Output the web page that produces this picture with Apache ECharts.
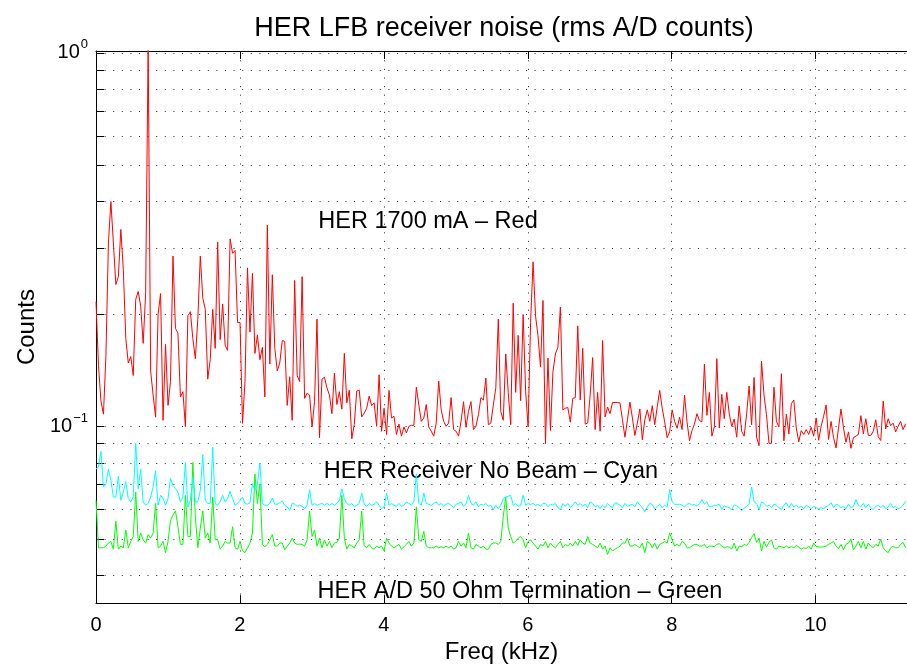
<!DOCTYPE html>
<html><head><meta charset="utf-8">
<script src="https://cdn.jsdelivr.net/npm/echarts@6/dist/echarts.min.js"></script>
<style>html,body{margin:0;padding:0;background:#fff}#c{width:907px;height:669px}</style>
</head><body><div id="c"></div>
<script>
// frequency bins (kHz): 327 bins from 0 to 11.25 kHz
const freqMax = 11.25;
const binCount = 327;

const red = [
0.216,0.146,0.117,0.108,0.155,0.31,0.40,0.31,0.24,0.252,
0.337,0.263,0.172,0.148,0.154,0.137,0.219,0.23,0.21,0.167,
0.228,1.05,0.141,0.1215,0.106,0.2,0.227,0.104,0.166,0.114,
0.132,0.286,0.183,0.178,0.12,0.124,0.1,0.198,0.203,0.172,
0.152,0.194,0.286,0.221,0.206,0.134,0.151,0.206,0.162,0.312,
0.171,0.213,0.165,0.16,0.318,0.291,0.296,0.19,0.19,0.102,
0.132,0.266,0.179,0.257,0.157,0.176,0.151,0.163,0.12,0.346,
0.147,0.255,0.162,0.141,0.148,0.17,0.169,0.114,0.136,0.104,
0.246,0.137,0.132,0.252,0.119,0.1228,0.1215,0.0998,0.1166,0.194,
0.0934,0.134,0.1356,0.127,0.1215,0.1083,0.139,0.1146,0.124,0.1114,
0.157,0.1158,0.1252,0.0928,0.1012,0.1245,0.1252,0.1062,0.1087,0.112,
0.1207,0.1138,0.1158,0.1002,0.1376,0.0972,0.112,0.0953,0.125,0.1055,
0.1066,0.0953,0.1016,0.0943,0.0998,0.0962,0.1002,0.1008,0.1008,0.1275,
0.1143,0.1033,0.1055,0.1146,0.0998,0.0972,0.0943,0.1022,0.1325,0.1109,
0.1033,0.1002,0.1022,0.1196,0.0982,0.0972,0.0943,0.1033,0.1166,0.0996,
0.1098,0.1166,0.0982,0.1002,0.1076,0.1196,0.1178,0.135,0.1012,0.1022,
0.1143,0.127,0.194,0.1098,0.104,0.1565,0.1235,0.1012,0.214,0.1235,
0.1755,0.1173,0.1995,0.1245,0.0998,0.19,0.276,0.1976,0.175,0.1443,
0.2176,0.09,0.1525,0.0976,0.1403,0.1565,0.163,0.209,0.1109,0.112,
0.1125,0.1028,0.119,0.1196,0.186,0.1178,0.162,0.1016,0.1022,0.1215,
0.153,0.0982,0.1235,0.0972,0.17,0.1062,0.1128,0.1083,0.116,0.116,
0.116,0.1158,0.1043,0.0937,0.1043,0.1163,0.1055,0.0947,0.1022,0.1115,
0.0922,0.1043,0.1109,0.1033,0.1138,0.1012,0.113,0.125,0.112,0.103,
0.0934,0.0968,0.1109,0.1033,0.099,0.106,0.0982,0.1215,0.1028,0.0917,
0.0976,0.1016,0.1083,0.1038,0.103,0.147,0.1072,0.1235,0.0943,0.0998,
0.152,0.0992,0.122,0.105,0.1235,0.1083,0.1002,0.1048,0.0937,0.1135,
0.0972,0.0943,0.1083,0.1285,0.1012,0.1354,0.0937,0.0889,0.1497,0.1215,
0.1076,0.0902,0.0902,0.1275,0.1033,0.0998,0.1385,0.0917,0.108,0.0956,
0.1153,0.1178,0.0992,0.0911,0.0976,0.0953,0.0982,0.0953,0.0996,0.0943,
0.1055,0.092,0.1002,0.1066,0.1143,0.0924,0.1033,0.0934,0.0877,0.0992,
0.1114,0.0992,0.0908,0.0968,0.0875,0.0934,0.0943,0.0953,0.107,0.0956,
0.105,0.0948,0.0947,0.0972,0.1043,0.0939,0.0918,0.117,0.0986,0.105,
0.1006,0.1022,0.0968,0.1002,0.1033,0.0982,0.1018
];

const cyan = [
0.077,0.0779,0.0858,0.0689,0.0703,0.077,0.0718,0.0648,0.0648,0.0736,
0.0635,0.0668,0.0713,0.0642,0.0629,0.0648,0.0902,0.0682,0.077,0.0629,
0.0616,0.0623,0.0648,0.0689,0.0762,0.0616,0.0655,0.0642,0.0616,0.0642,
0.0728,0.0696,0.0682,0.0668,0.0629,0.0648,0.0802,0.061,0.0635,0.0732,
0.0629,0.0629,0.0675,0.0841,0.0635,0.0623,0.0623,0.0881,0.0623,0.0616,
0.0629,0.0655,0.0629,0.0642,0.0672,0.0642,0.0616,0.0623,0.0635,0.0648,
0.0623,0.062,0.0626,0.0703,0.0675,0.0703,0.0797,0.0623,0.0616,0.0616,
0.0623,0.0644,0.062,0.062,0.0626,0.0632,0.0616,0.061,0.0597,0.0623,
0.062,0.0612,0.0616,0.0612,0.0603,0.0616,0.0678,0.0616,0.0623,0.0616,
0.062,0.0623,0.0616,0.0623,0.0616,0.0623,0.0616,0.0623,0.0635,0.0682,
0.0642,0.0623,0.0616,0.0623,0.061,0.0616,0.0623,0.0664,0.062,0.0612,
0.0623,0.0616,0.062,0.0629,0.0616,0.0603,0.061,0.0664,0.0616,0.0623,
0.0616,0.0612,0.0623,0.0612,0.0616,0.0629,0.0623,0.0616,0.0629,0.0747,
0.0623,0.0616,0.0664,0.0623,0.062,0.0616,0.0623,0.0629,0.0616,0.0623,
0.0612,0.062,0.0623,0.0616,0.0607,0.062,0.0623,0.0629,0.0612,0.062,
0.0655,0.0623,0.0616,0.0629,0.061,0.062,0.0616,0.0623,0.0612,0.0616,
0.06,0.0616,0.0603,0.0616,0.0642,0.0648,0.0651,0.0655,0.0616,0.0623,
0.0612,0.0616,0.0655,0.0616,0.0623,0.0619,0.0623,0.0616,0.0619,0.0612,
0.0623,0.0623,0.061,0.062,0.0616,0.0623,0.0607,0.06,0.0623,0.0612,
0.0623,0.0607,0.0616,0.0629,0.0616,0.0623,0.0612,0.062,0.0607,0.0629,
0.0623,0.061,0.0616,0.0603,0.0616,0.0607,0.0623,0.0612,0.0607,0.0626,
0.0623,0.0616,0.0607,0.0623,0.0612,0.0616,0.062,0.061,0.0629,0.0616,
0.0607,0.0592,0.061,0.0623,0.0619,0.0603,0.0612,0.062,0.0607,0.0616,
0.061,0.0678,0.0629,0.062,0.0619,0.062,0.0616,0.061,0.062,0.0623,
0.0616,0.062,0.0612,0.0623,0.0638,0.062,0.0629,0.061,0.0612,0.0616,
0.0616,0.062,0.06,0.0614,0.061,0.0607,0.06,0.0617,0.0614,0.0607,
0.0596,0.0605,0.0612,0.062,0.0689,0.0629,0.0623,0.06,0.0629,0.0623,
0.0612,0.0616,0.0607,0.062,0.0616,0.0607,0.06,0.0616,0.0626,0.0607,
0.0623,0.061,0.0616,0.0607,0.0612,0.0603,0.0616,0.061,0.0603,0.0612,
0.0607,0.0603,0.0607,0.0603,0.061,0.0616,0.0626,0.0607,0.062,0.0616,
0.0607,0.0612,0.0603,0.062,0.0607,0.0612,0.0638,0.0616,0.061,0.0623,
0.0607,0.062,0.0607,0.06,0.0612,0.0616,0.0607,0.0616,0.0603,0.061,
0.0623,0.0607,0.0612,0.0603,0.0607,0.0616,0.0632
];

const green = [
0.0635,0.0474,0.0474,0.0474,0.0479,0.0488,0.0493,0.047,0.0558,0.047,
0.0479,0.0474,0.0529,0.0474,0.0493,0.0508,0.0668,0.0493,0.0519,0.0498,
0.0488,0.0514,0.0503,0.0519,0.0623,0.0474,0.0479,0.0493,0.046,0.0493,
0.0561,0.058,0.0595,0.054,0.0484,0.0484,0.0655,0.0508,0.0508,0.0802,
0.0574,0.0474,0.0535,0.0595,0.0503,0.0519,0.0488,0.0648,0.0498,0.0498,
0.047,0.0479,0.0493,0.0488,0.0488,0.054,0.0474,0.047,0.0493,0.0465,
0.046,0.0474,0.0488,0.0519,0.0747,0.0623,0.0703,0.0484,0.0477,0.0484,
0.0498,0.0514,0.0479,0.0479,0.0488,0.0488,0.0468,0.0479,0.0488,0.0503,
0.0488,0.0484,0.0485,0.0484,0.0479,0.0498,0.0595,0.0508,0.0529,0.0479,
0.0503,0.0474,0.0498,0.0479,0.0493,0.0474,0.0488,0.049,0.0503,0.0655,
0.0503,0.047,0.0484,0.0479,0.0474,0.0488,0.0498,0.0594,0.048,0.0474,
0.0484,0.0474,0.047,0.0479,0.0474,0.0479,0.0465,0.0503,0.0488,0.0479,
0.0474,0.0479,0.0484,0.047,0.0477,0.0484,0.0493,0.0479,0.0488,0.061,
0.0498,0.0493,0.0524,0.0479,0.0474,0.0474,0.0474,0.0479,0.0474,0.0477,
0.0474,0.0479,0.0474,0.0479,0.047,0.0474,0.0493,0.0479,0.0488,0.0474,
0.0519,0.0474,0.047,0.0484,0.0479,0.0474,0.0479,0.047,0.047,0.0484,
0.0488,0.0488,0.0484,0.0493,0.0574,0.0648,0.0535,0.0508,0.0488,0.0493,
0.0503,0.0508,0.0498,0.0474,0.0493,0.0498,0.0488,0.0479,0.047,0.0484,
0.0479,0.0493,0.0474,0.0488,0.0479,0.0474,0.0484,0.0493,0.0474,0.0484,
0.0479,0.0488,0.0479,0.0493,0.0481,0.0498,0.0488,0.0484,0.0508,0.0488,
0.0484,0.0479,0.0474,0.0488,0.047,0.0479,0.0455,0.0474,0.0465,0.047,
0.0474,0.0479,0.0488,0.0488,0.0503,0.0479,0.0479,0.0484,0.0479,0.0474,
0.0488,0.046,0.0493,0.0488,0.0474,0.0488,0.047,0.0484,0.0488,0.0493,
0.0488,0.0519,0.0498,0.0479,0.0484,0.0479,0.0493,0.0488,0.0474,0.0474,
0.0479,0.0484,0.0484,0.0479,0.0479,0.0484,0.0474,0.0479,0.0479,0.0477,
0.0484,0.0486,0.0479,0.0474,0.0477,0.0476,0.047,0.0488,0.0465,0.0479,
0.0477,0.0484,0.0481,0.049,0.0505,0.0517,0.049,0.0503,0.0465,0.0493,
0.0476,0.049,0.0498,0.0474,0.047,0.0479,0.0477,0.0474,0.0479,0.0474,
0.0477,0.0474,0.0481,0.0476,0.047,0.0474,0.0472,0.0479,0.047,0.0488,
0.0478,0.0477,0.0476,0.0477,0.0479,0.0484,0.0488,0.0493,0.0479,0.0471,
0.0484,0.0468,0.0484,0.0488,0.05,0.0468,0.0479,0.0493,0.0474,0.0493,
0.047,0.0488,0.0479,0.0474,0.0484,0.0479,0.05,0.0474,0.0465,0.046,
0.0474,0.0479,0.0474,0.0474,0.0484,0.049,0.0474
];

const xTickValues = [0, 2, 4, 6, 8, 10];
const yLabelValues = [0.1, 1];
const yGridValues = [0.04,0.05,0.06,0.07,0.08,0.09,0.1,0.2,0.3,0.4,0.5,0.6,0.7,0.8,0.9,1];
const titleText = 'HER LFB receiver noise (rms A/D counts)';
const xName = 'Freq (kHz)';
const yName = 'Counts';
const notes = ['HER 1700 mA \u2013 Red', 'HER Receiver No Beam \u2013 Cyan', 'HER A/D 50 Ohm Termination \u2013 Green'];

const FONT = '"Liberation Sans", Arial, Helvetica, sans-serif';
const xMin = 0, xMax = 11.27;
const yMin = 0.03371, yMax = 1.012;
const step = freqMax / (binCount - 1);
const pairs = arr => arr.map((v, i) => [i * step, v]);

const chart = echarts.init(document.getElementById('c'), null, {renderer: 'canvas'});
const gridDash = {color: '#000', width: 1, type: [1, 7.6], opacity: 0.85};
const lg = Math.log10;

chart.setOption({
  animation: false,
  backgroundColor: '#fff',
  grid: {left: 96, right: 0, top: 51, bottom: 58, containLabel: false},
  xAxis: [{
    type: 'value', min: xMin, max: xMax, interval: 2, position: 'bottom',
    axisLine: {show: true, onZero: false, lineStyle: {color: '#000', width: 1}},
    axisTick: {show: true, inside: true, length: 8, customValues: xTickValues, lineStyle: {color: '#000'}},
    axisLabel: {show: true, customValues: xTickValues, fontSize: 20, color: '#000', fontFamily: FONT, margin: 12},
    splitLine: {show: false},
    name: xName, nameLocation: 'middle', nameGap: 35,
    nameTextStyle: {fontSize: 24, color: '#000', fontFamily: FONT}
  }, {
    type: 'value', min: xMin, max: xMax, interval: 2, position: 'top',
    axisLine: {show: true, onZero: false, lineStyle: {color: '#000', width: 1}},
    axisTick: {show: true, inside: true, length: 8, customValues: xTickValues, lineStyle: {color: '#000'}},
    axisLabel: {show: false},
    splitLine: {show: false}
  }],
  yAxis: [{
    type: 'log', logBase: 10, min: yMin, max: yMax, position: 'left',
    axisLine: {show: true, onZero: false, lineStyle: {color: '#000', width: 1}},
    axisTick: {show: false}, axisLabel: {show: false}, splitLine: {show: false}, minorSplitLine: {show: false}
  }, {
    type: 'value', min: lg(yMin), max: lg(yMax), position: 'left',
    axisLine: {show: false},
    axisTick: {show: true, inside: true, length: 8, customValues: yGridValues.map(lg), lineStyle: {color: '#000'}},
    axisLabel: {
      show: true, customValues: yLabelValues.map(lg), margin: 8,
      formatter: v => { const e = Math.round(v); return '{b|10}{s|' + (e < 0 ? '\u2212' + (-e) : e) + '}'; },
      rich: {
        b: {fontSize: 20, lineHeight: 20, fontFamily: FONT, color: '#000', verticalAlign: 'bottom'},
        s: {fontSize: 13, lineHeight: 13, fontFamily: FONT, color: '#000', verticalAlign: 'bottom', padding: [0, 0, 12, 1]}
      }
    },
    splitLine: {show: false},
    name: yName, nameLocation: 'middle', nameGap: 57, nameRotate: 90,
    nameTextStyle: {fontSize: 24, color: '#000', fontFamily: FONT}
  }],
  series: [{
    type: 'line', data: pairs(green), xAxisIndex: 0, yAxisIndex: 0, symbol: 'none', showSymbol: false,
    lineStyle: {color: '#00ff00', width: 1}, z: 3, silent: true, clip: true,
    markLine: {
      silent: true, z: 1, symbol: ['none', 'none'], label: {show: false}, animation: false,
      lineStyle: gridDash, emphasis: {disabled: true},
      data: yGridValues.map(v => ({yAxis: v})).concat(xTickValues.filter(v => v > 0).map(v => ({xAxis: v})))
    }
  }, {
    type: 'line', data: pairs(cyan), xAxisIndex: 0, yAxisIndex: 0, symbol: 'none', showSymbol: false,
    lineStyle: {color: '#00ffff', width: 1}, z: 3, silent: true, clip: true
  }, {
    type: 'line', data: pairs(red), xAxisIndex: 0, yAxisIndex: 0, symbol: 'none', showSymbol: false,
    lineStyle: {color: '#ff0000', width: 1}, z: 3, silent: true, clip: true
  }],
  graphic: [
    {type: 'text', x: 504, y: 29, silent: true, style: {text: titleText, fontSize: 27, fontFamily: FONT, fill: '#000', textAlign: 'center', textVerticalAlign: 'middle'}},
    {type: 'text', x: 428, y: 222, silent: true, style: {text: notes[0], fontSize: 23.5, fontFamily: FONT, fill: '#000', textAlign: 'center', textVerticalAlign: 'middle'}},
    {type: 'text', x: 491, y: 472, silent: true, style: {text: notes[1], fontSize: 23.5, fontFamily: FONT, fill: '#000', textAlign: 'center', textVerticalAlign: 'middle'}},
    {type: 'text', x: 520, y: 592, silent: true, style: {text: notes[2], fontSize: 23.5, fontFamily: FONT, fill: '#000', textAlign: 'center', textVerticalAlign: 'middle'}}
  ]
});
</script>
</body></html>
